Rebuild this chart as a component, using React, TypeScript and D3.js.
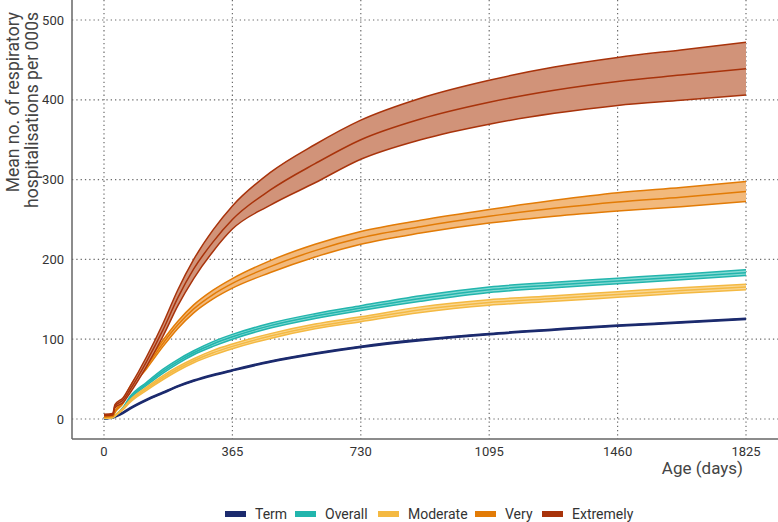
import React from 'react';
import * as d3 from 'd3';

// days since birth at which values were read
const days = [0, 25, 31, 55, 73, 121, 168, 210, 255, 310, 365, 473, 600, 730, 900, 1095, 1280, 1460, 1640, 1825];

const termMean = [0, 2, 3, 8, 13, 24, 33, 41, 48, 55, 61, 72, 82, 90.5, 99, 106.5, 112, 117, 121, 125.5];
const termUpper = [0.3, 2.8, 3.8, 8.8, 13.8, 24.8, 33.8, 41.8, 48.8, 55.8, 61.8, 72.8, 82.8, 91.3, 99.8, 107.3, 112.8, 117.8, 121.8, 126.3];
const termLower = [0, 1.2, 2.2, 7.2, 12.2, 23.2, 32.2, 40.2, 47.2, 54.2, 60.2, 71.2, 81.2, 89.7, 98.2, 105.7, 111.2, 116.2, 120.2, 124.7];

const overallMean = [1, 2, 4, 14, 26, 44, 60, 72, 83, 94, 103, 117, 129, 139, 151, 162, 168, 173, 178, 183.5];
const overallUpper = [1.3, 2.5, 4.5, 15, 27.5, 46, 62.5, 74.5, 85.5, 97, 106, 120, 132, 142, 154.5, 165.5, 171.5, 176.5, 181.5, 187];
const overallLower = [0.7, 1.5, 3.5, 13, 24.5, 42, 57.5, 69.5, 80.5, 91, 100, 114, 126, 136, 147.5, 158.5, 164.5, 169.5, 174.5, 180];

const moderateMean = [1, 2, 4, 13, 22, 38, 52, 63, 73, 83, 91, 104, 116, 125, 137, 146, 151, 156, 161, 165.5];
const moderateUpper = [1.3, 2.5, 4.5, 14, 23.5, 40, 54.5, 65.5, 75.5, 86, 94, 107, 119, 128, 140.5, 149.5, 154.5, 159.5, 164.5, 169];
const moderateLower = [0.7, 1.5, 3.5, 12, 20.5, 36, 49.5, 60.5, 70.5, 80, 88, 101, 113, 122, 133.5, 142.5, 147.5, 152.5, 157.5, 162];

const veryMean = [3, 4, 9, 22, 38, 66, 95, 118, 138, 156, 170, 191, 211, 227, 241, 254, 264, 272, 278, 285];
const veryUpper = [3.5, 5, 10, 24, 40, 69, 99, 122.5, 143, 161.5, 176, 198.5, 219, 235, 249, 262.5, 274, 283.5, 290, 297.5];
const veryLower = [2.5, 3, 8, 20, 36, 63, 91, 113.5, 133, 150.5, 164, 183.5, 203, 219, 233, 245.5, 254, 260.5, 266, 272.5];

const extremelyMean = [5, 6, 16, 24, 36, 72, 112, 152, 188, 222, 250, 287, 320, 350, 376, 397, 412, 423, 431, 439];
const extremelyUpper = [6, 7, 18, 27, 40, 78, 120, 162, 200, 237, 267, 309, 344, 374.5, 402, 424.5, 441, 453, 462.5, 472];
const extremelyLower = [4, 5, 14, 21, 32, 66, 104, 142, 176, 210, 238, 268, 296, 325.5, 350, 369.5, 383, 393, 399.5, 406];

const xTicks = [0, 365, 730, 1095, 1460, 1825];
const yTicks = [0, 100, 200, 300, 400, 500];

const groups = ['Term', 'Overall', 'Moderate', 'Very', 'Extremely'];

const App = () => {
    const svgRef = React.useRef(null);
    const width = 778;
    const height = 522;

    React.useEffect(() => {
        const svg = d3.select(svgRef.current);
        svg.selectAll("*").remove();

        const font = "Roboto, 'Open Sans', sans-serif";
        const left = 72, bottom = 439;

        const x = d3.scaleLinear().domain([0, 1825]).range([104, 746]);
        const y = d3.scaleLinear().domain([0, 500]).range([419, 20]);

        const series = [
            { name: 'Term', mean: termMean, lo: termLower, hi: termUpper, color: '#1c2b6e', fill: '#6a74a3' },
            { name: 'Overall', mean: overallMean, lo: overallLower, hi: overallUpper, color: '#22b5ad', fill: '#86dad4' },
            { name: 'Moderate', mean: moderateMean, lo: moderateLower, hi: moderateUpper, color: '#f4b942', fill: '#f9d794' },
            { name: 'Very', mean: veryMean, lo: veryLower, hi: veryUpper, color: '#e27b06', fill: '#f2b97c' },
            { name: 'Extremely', mean: extremelyMean, lo: extremelyLower, hi: extremelyUpper, color: '#a8330b', fill: '#d19379' },
        ];

        // grid
        const grid = svg.append("g")
            .attr("stroke", "#6b6b6b")
            .attr("stroke-width", 1.2)
            .attr("stroke-dasharray", "1.3,3");
        grid.selectAll("line.h").data(yTicks).enter().append("line")
            .attr("x1", left).attr("x2", width)
            .attr("y1", d => y(d)).attr("y2", d => y(d));
        grid.selectAll("line.v").data(xTicks).enter().append("line")
            .attr("x1", d => x(d)).attr("x2", d => x(d))
            .attr("y1", 0).attr("y2", bottom);

        // axes
        svg.append("line").attr("x1", left).attr("x2", left).attr("y1", 0).attr("y2", bottom)
            .attr("stroke", "#666").attr("stroke-width", 1.5);
        svg.append("line").attr("x1", left).attr("x2", width).attr("y1", bottom).attr("y2", bottom)
            .attr("stroke", "#666").attr("stroke-width", 1.5);

        svg.append("g").selectAll("text").data(yTicks).enter().append("text")
            .attr("x", left - 8).attr("y", d => y(d)).attr("dy", "0.35em")
            .attr("text-anchor", "end")
            .style("font-family", font).style("font-size", "13px").attr("fill", "#333")
            .text(d => d);

        svg.append("g").selectAll("text").data(xTicks).enter().append("text")
            .attr("x", d => x(d)).attr("y", bottom + 17)
            .attr("text-anchor", "middle")
            .style("font-family", font).style("font-size", "13px").attr("fill", "#333")
            .text(d => d);

        svg.append("text")
            .attr("x", 743).attr("y", 474)
            .attr("text-anchor", "end")
            .style("font-family", font).style("font-size", "17px").attr("fill", "#444")
            .text("Age (days)");

        svg.append("text")
            .attr("transform", "rotate(-90)")
            .attr("x", -12).attr("y", 19)
            .attr("text-anchor", "end")
            .style("font-family", font).style("font-size", "17.5px").attr("fill", "#444")
            .text("Mean no. of respiratory");
        svg.append("text")
            .attr("transform", "rotate(-90)")
            .attr("x", -12).attr("y", 38)
            .attr("text-anchor", "end")
            .style("font-family", font).style("font-size", "17.5px").attr("fill", "#444")
            .text("hospitalisations per 000s");

        // bands and lines
        const area = d3.area()
            .x((d) => x(d[0]))
            .y0((d) => y(d[1]))
            .y1((d) => y(d[2]))
            .curve(d3.curveMonotoneX);
        const line = d3.line()
            .x((d) => x(d[0]))
            .y((d) => y(d[1]))
            .curve(d3.curveMonotoneX);

        series.forEach(s => {
            const pts = days.map((d, i) => [d, s.lo[i], s.hi[i]]);
            const g = svg.append("g");
            g.append("path").datum(pts).attr("d", area).attr("fill", s.fill).attr("stroke", "none");
            g.append("path").datum(days.map((d, i) => [d, s.lo[i]])).attr("d", line)
                .attr("fill", "none").attr("stroke", s.color).attr("stroke-width", 1.5);
            g.append("path").datum(days.map((d, i) => [d, s.hi[i]])).attr("d", line)
                .attr("fill", "none").attr("stroke", s.color).attr("stroke-width", 1.5);
            g.append("path").datum(days.map((d, i) => [d, s.mean[i]])).attr("d", line)
                .attr("fill", "none").attr("stroke", s.color).attr("stroke-width", 1.5);
        });

        // legend
        const legendX = [225, 295, 378, 475, 542];
        const leg = svg.append("g");
        groups.forEach((name, i) => {
            const s = series[i];
            leg.append("rect")
                .attr("x", legendX[i]).attr("y", 511)
                .attr("width", 21).attr("height", 6)
                .attr("fill", s.color);
            leg.append("text")
                .attr("x", legendX[i] + 30).attr("y", 514).attr("dy", "0.35em")
                .style("font-family", font).style("font-size", "14px").attr("fill", "#333")
                .text(name);
        });
    }, []);

    return <svg ref={svgRef} width={width} height={height}
        style={{ position: 'absolute', left: 0, top: 0, background: '#fff' }} />;
};

export default App;
